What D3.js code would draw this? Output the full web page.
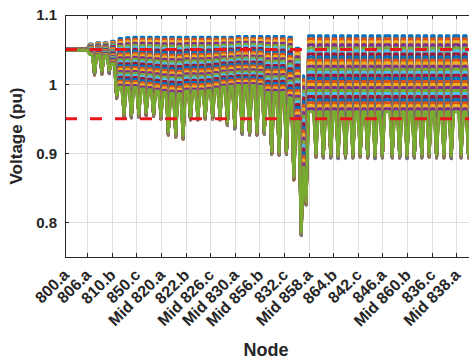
<!DOCTYPE html>
<html><head><meta charset="utf-8">
<script src="https://cdn.jsdelivr.net/npm/d3@7"></script>
<style>
body{margin:0;background:#fff}
svg{display:block}
text{font-family:"Liberation Sans",Arial,Helvetica,sans-serif;font-weight:bold;fill:#262626}
</style>
</head><body>
<svg id="chart" width="469" height="361"></svg>
<script>
// ---------------- data ----------------
const nodeLabels = ["800.a","806.a","810.b","850.c","Mid 820.a","822.b","Mid 826.c","Mid 830.a","Mid 856.b","832.c","Mid 858.a","864.b","842.c","846.a","Mid 860.b","836.c","Mid 838.a"];
const tickIndex = [1,10,20,30,40,50,60,70,80,90,100,110,120,130,140,150,160];
const yTicks = [0.8, 0.9, 1, 1.1];
const yTickLabels = ["0.8", "0.9", "1", "1.1"];
const limitValues = [1.05, 0.95];
const xLimits = [1, 172];
const yLimits = [0.75, 1.1];
// substation zone (points 1..flatEnd): voltage of highest / lowest case
const flatEnd = 10;
const substationV = [1.051, 1.049];
// node-phase index of each voltage dip
const dipIndex = [13,16,19,22,25,28,31,34,37,40,43,46,49,52,55,58,61,64,67,70,73,76,79,82,85,88,91,94,97,99,
  103,106,109,112,115,118,121,124,127,130,134,137,140,143,146,149,152,155,158,162,165,168,171];
// voltage at the dip
const dipVoltage = [1.018,1.019,1.020,0.984,0.957,0.956,0.957,0.959,0.958,0.954,
  0.931,0.928,0.925,0.953,0.953,0.954,0.954,0.953,0.945,0.940,
  0.932,0.931,0.931,0.932,0.903,0.902,0.903,0.866,0.786,0.830,
  0.899,0.898,0.898,0.897,0.898,0.898,0.899,0.898,0.897,0.898,
  0.898,0.898,0.897,0.898,0.898,0.899,0.898,0.898,0.897,0.898,
  0.898,0.898,0.898];
// highest case voltage on the plateau before each dip
const peakTop = [1.058,1.060,1.060,1.062,1.066,1.067,1.068,1.068,1.068,1.068,
  1.068,1.068,1.068,1.068,1.068,1.068,1.068,1.068,1.068,1.068,
  1.069,1.069,1.069,1.069,1.069,1.069,1.069,1.068,1.052,1.012,
  1.070,1.070,1.070,1.070,1.070,1.070,1.070,1.070,1.070,1.070,
  1.070,1.070,1.070,1.070,1.070,1.070,1.070,1.070,1.070,1.070,
  1.070,1.070,1.070];
// lowest case voltage on the plateau before each dip
const peakLow = [1.043,1.042,1.041,1.030,0.996,0.995,0.995,0.993,0.992,0.990,
  0.988,0.987,0.986,0.990,0.990,0.990,0.991,0.993,0.996,0.997,
  0.998,0.998,0.998,0.997,0.988,0.988,0.988,0.980,0.950,0.880,
  0.960,0.960,0.960,0.960,0.960,0.960,0.960,0.960,0.960,0.960,
  0.960,0.960,0.960,0.960,0.960,0.960,0.960,0.960,0.960,0.960,
  0.960,0.960,0.960];
// normalised loading of each plotted case (0 = lightest, 1 = heaviest)
const loadLevel = [0,0.04,0.08,0.12,0.16,0.20,0.24,0.28,0.32,0.36,0.40,0.44,0.48,
  0.52,0.56,0.60,0.64,0.68,0.72,0.76,0.80,0.84,0.88,0.92,0.96,1];
const tipSpread = 0.005;
const colorOrder = ["#0072BD","#D95319","#EDB120","#7E2F8E","#77AC30","#4DBEEE","#A2142F"];

(function draw() {
  // ---------------- build case profiles ----------------
  const nPoints = xLimits[1];
  const dipSet = new Map(dipIndex.map((d, g) => [d, g]));
  function caseProfile(level) {
    const pts = [];
    for (let i = 1; i <= nPoints; i++) {
      let v;
      if (i <= flatEnd) {
        v = substationV[0] - level * (substationV[0] - substationV[1]);
      } else if (dipSet.has(i)) {
        const g = dipSet.get(i);
        v = dipVoltage[g] - (1 - level) * tipSpread;
      } else {
        let g = dipIndex.findIndex(d => d > i);
        if (g < 0) g = dipIndex.length - 1;
        v = peakTop[g] - level * (peakTop[g] - peakLow[g]);
      }
      pts.push([i, v]);
    }
    return pts;
  }

  // ---------------- layout ----------------
  const svg = d3.select("#chart");
  const L = 65, T = 15, B = 257;
  const pxPerPoint = 2.4606;
  const R = L + (xLimits[1] - xLimits[0]) * pxPerPoint;
  const x = d3.scaleLinear().domain(xLimits).range([L, R]);
  const y = d3.scaleLinear().domain(yLimits).range([B, T]);

  svg.append("rect").attr("width", 469).attr("height", 361).attr("fill", "#fff");

  // grid
  const grid = svg.append("g").attr("stroke", "#dfdfdf").attr("stroke-width", 1);
  tickIndex.forEach(t => grid.append("line").attr("x1", Math.round(x(t)) + 0.5).attr("x2", Math.round(x(t)) + 0.5).attr("y1", T).attr("y2", B));
  yTicks.forEach(t => grid.append("line").attr("x1", L).attr("x2", R).attr("y1", Math.round(y(t)) + 0.5).attr("y2", Math.round(y(t)) + 0.5));

  // clip
  svg.append("clipPath").attr("id", "plotclip").append("rect")
    .attr("x", L).attr("y", T).attr("width", R - L).attr("height", B - T);

  const line = d3.line().x(d => x(d[0])).y(d => y(d[1]));
  const lines = svg.append("g").attr("clip-path", "url(#plotclip)");
  loadLevel.forEach((lv, k) => {
    lines.append("path")
      .attr("d", line(caseProfile(lv)))
      .attr("fill", "none")
      .attr("stroke", colorOrder[k % colorOrder.length])
      .attr("stroke-width", 3)
      .attr("stroke-linejoin", "round")
      .attr("stroke-linecap", "round");
  });

  // limit lines
  limitValues.forEach(v => {
    lines.append("line").attr("x1", L).attr("x2", R)
      .attr("y1", y(v)).attr("y2", y(v))
      .attr("stroke", "#e8191c").attr("stroke-width", 3)
      .attr("stroke-dasharray", "12,13");
  });

  // axes box
  const ax = svg.append("g").attr("stroke", "#262626").attr("stroke-width", 1).attr("fill", "none");
  ax.append("rect").attr("x", L + 0.5).attr("y", T + 0.5).attr("width", R - L).attr("height", B - T);
  tickIndex.forEach(t => {
    const xp = Math.round(x(t)) + 0.5;
    ax.append("line").attr("x1", xp).attr("x2", xp).attr("y1", B).attr("y2", B - 4);
    ax.append("line").attr("x1", xp).attr("x2", xp).attr("y1", T).attr("y2", T + 4);
  });
  yTicks.forEach(t => {
    const yp = Math.round(y(t)) + 0.5;
    ax.append("line").attr("x1", L).attr("x2", L + 4).attr("y1", yp).attr("y2", yp);
  });

  // y tick labels
  yTicks.forEach((t, i) => {
    svg.append("text").attr("x", 57).attr("y", y(t)).attr("dy", "0.36em")
      .attr("text-anchor", "end").attr("font-size", 15).text(yTickLabels[i]);
  });

  // x tick labels (rotated)
  tickIndex.forEach((t, i) => {
    svg.append("text")
      .attr("transform", `translate(${x(t) + 1},${B + 15}) rotate(-45)`)
      .attr("text-anchor", "end").attr("dy", "0.35em")
      .attr("font-size", 16).text(nodeLabels[i]);
  });

  // axis titles
  svg.append("text").attr("x", 266).attr("y", 356).attr("text-anchor", "middle")
    .attr("font-size", 18).text("Node");
  svg.append("text").attr("transform", `translate(22,${(T + B) / 2}) rotate(-90)`)
    .attr("text-anchor", "middle").attr("font-size", 17).text("Voltage (pu)");
})();
</script>
</body></html>
